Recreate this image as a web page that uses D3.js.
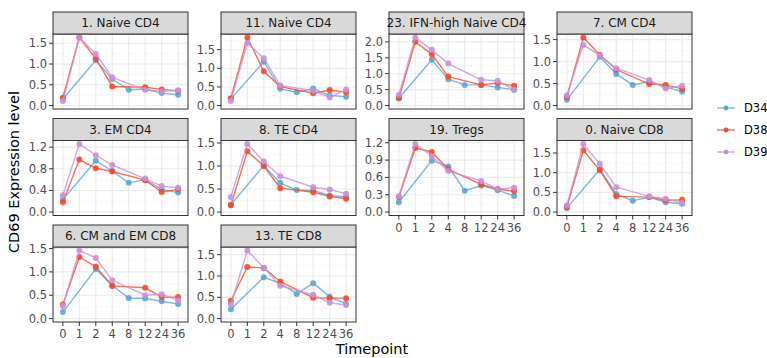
<!DOCTYPE html>
<html><head><meta charset="utf-8">
<script src="https://cdn.jsdelivr.net/npm/d3@7"></script>
<style>body{margin:0;background:#fff}svg{display:block;font-family:"DejaVu Sans",sans-serif}</style>
</head><body><svg id="c" width="767" height="358"></svg>
<script>
const timepoints = ["0","1","2","4","8","12","24","36"];
const seriesNames = ["D34","D38","D39"];
const seriesColors = ["#5DA5D6","#F34B2B","#C990DA"];
const panels = ["1. Naive CD4","11. Naive CD4","23. IFN-high Naive CD4","7. CM CD4","3. EM CD4","8. TE CD4","19. Tregs","0. Naive CD8","6. CM and EM CD8","13. TE CD8"];
const yTicks = [
  [0,0.5,1,1.5],[0,0.5,1,1.5],[0,0.5,1,1.5,2],[0,0.5,1,1.5],
  [0,0.4,0.8,1.2],[0,0.5,1,1.5],[0,0.3,0.6,0.9,1.2],[0,0.5,1,1.5],
  [0,0.5,1,1.5],[0,0.5,1,1.5]
];
const D34 = [
  [0.16,null,1.09,0.64,0.38,0.40,0.30,0.26],
  [0.18,null,1.18,0.45,0.36,0.46,0.27,0.24],
  [0.23,null,1.44,0.83,0.65,0.65,0.57,0.50],
  [0.13,null,1.11,0.72,0.47,0.55,0.42,0.32],
  [0.23,null,0.95,0.76,0.54,0.60,0.42,0.36],
  [0.16,null,1.01,0.63,0.48,0.47,0.36,0.33],
  [0.17,null,0.89,0.79,0.37,0.46,0.38,0.28],
  [0.10,null,1.08,0.46,0.29,0.38,0.25,0.21],
  [0.14,null,1.06,0.71,0.44,0.43,0.37,0.31],
  [0.22,null,0.97,0.83,0.58,0.83,0.51,0.35]
];
const D38 = [
  [0.19,1.64,1.13,0.46,null,0.44,0.39,0.35],
  [0.20,1.83,0.92,0.51,null,0.33,0.42,0.36],
  [0.23,2.00,1.61,0.91,null,0.65,0.71,0.62],
  [0.19,1.55,1.15,0.82,null,0.49,0.47,0.38],
  [0.18,0.97,0.81,0.75,null,0.59,0.37,0.42],
  [0.15,1.32,1.00,0.52,null,0.43,0.34,0.29],
  [0.26,1.11,1.04,0.74,null,0.48,0.40,0.36],
  [0.13,1.57,1.06,0.40,null,0.38,0.30,0.31],
  [0.30,1.32,1.11,0.70,null,0.66,0.46,0.46],
  [0.42,1.21,1.19,0.87,null,0.49,0.48,0.48]
];
const D39 = [
  [0.11,1.64,1.24,0.68,null,0.38,0.34,0.37],
  [0.12,1.68,1.27,0.54,null,0.40,0.22,0.43],
  [0.34,2.14,1.75,1.32,null,0.81,0.78,0.50],
  [0.23,1.38,1.14,0.85,null,0.58,0.39,0.45],
  [0.31,1.26,1.05,0.87,null,0.62,0.48,0.45],
  [0.33,1.48,1.10,0.78,null,0.54,0.49,0.40],
  [0.28,1.18,0.97,0.71,null,0.54,0.40,0.42],
  [0.17,1.73,1.22,0.63,null,0.40,0.34,0.23],
  [0.27,1.46,1.30,0.82,null,0.50,0.52,0.39],
  [0.33,1.60,1.19,0.77,null,0.56,0.37,0.32]
];
const seriesData = [D34, D38, D39];

const svg = d3.select("#c");
const colX = [53, 221, 389, 557];
const rowY = [12, 118.5, 225];
const pw = 135, stripH = 22, ph = 75;
const ncol = 4;
const x = d3.scalePoint().domain(timepoints).range([0, pw]).padding(0.6);

panels.forEach((name, i) => {
  const col = i % ncol, row = Math.floor(i / ncol);
  const g = svg.append("g").attr("transform", `translate(${colX[col]},${rowY[row]})`);
  const vmax = d3.max(seriesData, s => d3.max(s[i]));
  const y = d3.scaleLinear().domain([-0.05 * vmax, 1.05 * vmax]).range([stripH + ph, stripH]);
  const ticks = yTicks[i];
  const step = ticks[1] - ticks[0];
  const minor = [];
  for (let v = ticks[0] - step / 2; v <= y.domain()[1]; v += step) if (v >= y.domain()[0]) minor.push(v);
  g.append("rect").attr("x", 0).attr("y", stripH).attr("width", pw).attr("height", ph).attr("fill", "#fff");
  g.selectAll(".mn").data(minor).join("line").attr("x1", 0).attr("x2", pw)
    .attr("y1", d => y(d)).attr("y2", d => y(d)).attr("stroke", "#F3F3F3").attr("stroke-width", 0.6);
  g.selectAll(".mj").data(ticks).join("line").attr("x1", 0).attr("x2", pw)
    .attr("y1", d => y(d)).attr("y2", d => y(d)).attr("stroke", "#EBEBEB").attr("stroke-width", 1.1);
  g.selectAll(".vx").data(timepoints).join("line").attr("x1", d => x(d)).attr("x2", d => x(d))
    .attr("y1", stripH).attr("y2", stripH + ph).attr("stroke", "#EBEBEB").attr("stroke-width", 1.1);
  seriesData.forEach((s, si) => {
    const pts = timepoints.map((t, k) => ({t, v: s[i][k]})).filter(d => d.v != null);
    const line = d3.line().x(d => x(d.t)).y(d => y(d.v));
    g.append("path").attr("d", line(pts)).attr("fill", "none")
      .attr("stroke", seriesColors[si]).attr("stroke-width", 1.4).attr("stroke-opacity", 0.8);
    g.selectAll(".p" + si).data(pts).join("circle").attr("cx", d => x(d.t)).attr("cy", d => y(d.v))
      .attr("r", 3).attr("fill", seriesColors[si]).attr("fill-opacity", 0.9);
  });
  g.append("rect").attr("x", 0).attr("y", stripH).attr("width", pw).attr("height", ph)
    .attr("fill", "none").attr("stroke", "#333").attr("stroke-width", 1);
  g.append("rect").attr("x", 0).attr("y", 0).attr("width", pw).attr("height", stripH)
    .attr("fill", "#D9D9D9").attr("stroke", "#333").attr("stroke-width", 1);
  g.append("text").attr("x", pw / 2).attr("y", stripH / 2 + 4.3).attr("text-anchor", "middle")
    .attr("font-size", 12).attr("fill", "#1A1A1A").text(name);
  const ya = g.append("g");
  ya.selectAll("line").data(ticks).join("line").attr("x1", -4).attr("x2", 0)
    .attr("y1", d => y(d)).attr("y2", d => y(d)).attr("stroke", "#333");
  ya.selectAll("text").data(ticks).join("text").attr("x", -6).attr("y", d => y(d) + 4)
    .attr("text-anchor", "end").attr("font-size", 11.5).attr("fill", "#4D4D4D")
    .text(d => d3.format(".1f")(d));
  const below = i + ncol;
  if (below >= panels.length) {
    const xa = g.append("g");
    xa.selectAll("line").data(timepoints).join("line").attr("x1", d => x(d)).attr("x2", d => x(d))
      .attr("y1", stripH + ph).attr("y2", stripH + ph + 4).attr("stroke", "#333");
    xa.selectAll("text").data(timepoints).join("text").attr("x", d => x(d)).attr("y", stripH + ph + 16)
      .attr("text-anchor", "middle").attr("font-size", 11.5).attr("fill", "#4D4D4D").text(d => d);
  }
});

svg.append("text").attr("x", 372).attr("y", 354).attr("text-anchor", "middle")
  .attr("font-size", 14.5).attr("fill", "#000").text("Timepoint");
svg.append("text").attr("transform", "translate(19,172) rotate(-90)").attr("text-anchor", "middle")
  .attr("font-size", 14.5).attr("fill", "#000").text("CD69 Expression level");

const lg = svg.append("g");
seriesNames.forEach((n, si) => {
  const yy = 108 + si * 22;
  lg.append("line").attr("x1", 717).attr("x2", 735).attr("y1", yy).attr("y2", yy)
    .attr("stroke", seriesColors[si]).attr("stroke-width", 1.4).attr("stroke-opacity", 0.8);
  lg.append("circle").attr("cx", 726).attr("cy", yy).attr("r", 2.4).attr("fill", seriesColors[si]);
  lg.append("text").attr("x", 744).attr("y", yy + 4).attr("font-size", 11.5).attr("fill", "#000").text(n);
});
</script></body></html>
